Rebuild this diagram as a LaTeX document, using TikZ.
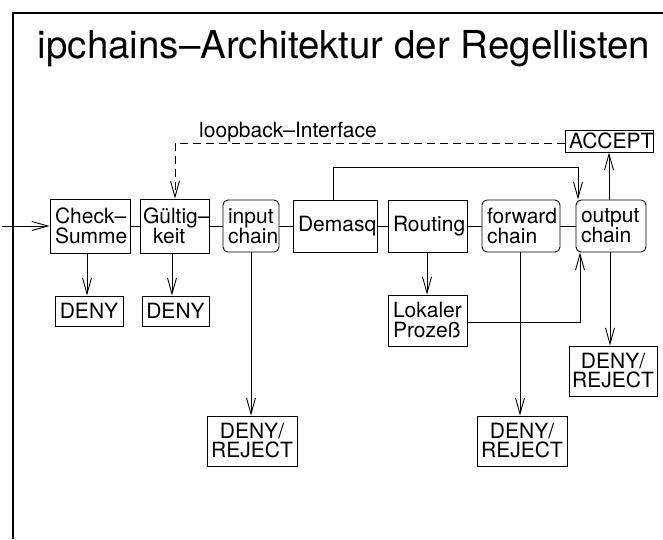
\documentclass[tikz,border=0pt]{standalone}
\usepackage{fontspec}
\setmainfont{TeX Gyre Heros}
\usetikzlibrary{arrows.meta}
\begin{document}
\begin{tikzpicture}[x=1pt,y=-1pt,line width=0.9pt,
  box/.style={draw, inner sep=0pt, align=center, font=\fontsize{21}{20}\selectfont},
  lbox/.style={box, align=left, inner xsep=5pt, text width=#1},
  chainbox/.style={lbox=#1, rounded corners=5pt},
  rejbox/.style={box, font=\fontsize{21}{19}\selectfont, minimum height=50pt},
  arr/.style={-{Straight Barb[length=16pt,width=9pt]}},
  loopline/.style={dash pattern=on 8pt off 5pt, arr}]
\useasboundingbox (0,0) rectangle (663,539);

% frame and title
\draw[line width=1.1pt] (13,539) -- (13,13) -- (663,13);
\node[font=\fontsize{38.5}{40}\selectfont, anchor=base, inner sep=0pt] (title) at (344,58)
  {ipchains–Architektur der Regellisten};

% main chain
\node[lbox=70pt, minimum height=54pt] (chk) at (90,226) {\mbox{Check–}\\Summe};
\node[box, align=left, inner xsep=3pt, text width=63pt, minimum height=54pt] (gue) at (174.5,226)
  {\mbox{Gültig–}\\\hspace*{10pt}keit};
\node[chainbox=46pt, minimum height=52pt] (inp) at (251,226) {input\\chain};
\node[lbox=74pt, minimum height=52pt] (dem) at (335,226) {\mbox{Demasq}};
\node[lbox=69pt, minimum height=52pt] (rout) at (427.5,226) {\mbox{Routing}};
\node[chainbox=68pt, minimum height=52pt] (fwd) at (521,226) {\mbox{forward}\\chain};
\node[chainbox=60pt, minimum height=52pt] (out) at (611,226) {output\\chain};

% targets
\node[lbox=80pt, inner xsep=4pt, minimum height=22pt] (acc) at (609,141) {\mbox{ACCEPT}};
\node[box, minimum width=68pt, minimum height=30pt] (deny1) at (89,311) {DENY};
\node[box, minimum width=67pt, minimum height=30pt] (deny2) at (175.5,311) {DENY};
\node[lbox=69pt, minimum height=51pt] (lok) at (427.5,320.5) {\mbox{Lokaler}\\\mbox{Prozeß}};
\node[rejbox, minimum width=88pt] (rej3) at (613,371) {DENY/\\REJECT};
\node[rejbox, minimum width=90pt] (rej1) at (252,441) {DENY/\\REJECT};
\node[rejbox, minimum width=90pt] (rej2) at (522,441) {DENY/\\REJECT};

% incoming packets
\coordinate (entry) at (2,226);
\draw[arr] (entry) -- (chk);

% links along the chain
\draw (chk) -- (gue);
\draw (gue) -- (inp);
\draw (inp) -- (dem);
\draw (dem) -- (rout);
\draw (rout) -- (fwd);
\draw (fwd) -- (out);

% branches downwards
\draw[arr] (chk.south -| 87,0) -- (deny1.north -| 87,0);
\draw[arr] (gue.south -| 172,0) -- (deny2.north -| 172,0);
\draw[arr] (inp.south -| 251,0) -- (rej1.north -| 251,0);
\draw[arr] (rout.south -| 427,0) -- (lok.north -| 427,0);
\draw[arr] (fwd.south -| 520,0) -- (rej2.north -| 520,0);
\draw[arr] (out.south -| 610,0) -- (rej3.north -| 610,0);

% local process back to output chain
\draw[arr] (lok.east |- 0,322) -| (out.south -| 580,0);

% demasqueraded packets straight to output chain
\coordinate (demtop) at (333,167);
\draw[arr] (dem.north -| demtop) -- (demtop) -| (out.north -| 578,0);

% output chain to ACCEPT
\draw[arr] (out.north -| 609,0) -- (acc.south -| 609,0);

% loopback interface
\draw[loopline] (acc.west |- 0,143) -| (gue.north -| 175,0);
\node[font=\fontsize{21}{19}\selectfont, anchor=base, inner sep=0pt] (lbl) at (288,137) {loopback–Interface};
\end{tikzpicture}
\end{document}
